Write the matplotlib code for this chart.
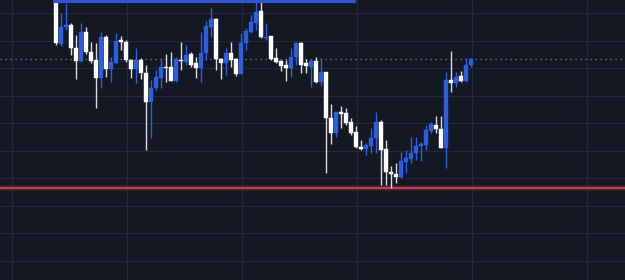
import matplotlib
matplotlib.use('Agg')
import matplotlib.pyplot as plt
import numpy as np

# candle prices (arbitrary units)
opens = [210, 156, 173, 175, 152, 139, 168, 148, 140, 122,
         163, 131, 137, 160, 158, 140, 131, 140, 127, 98,
         112, 122, 133, 133, 119, 140.5, 138, 146, 137, 132,
         147, 173, 181, 141, 137, 147, 141, 126, 157, 168,
         177, 189, 162.5, 164, 142, 139, 135, 132, 143, 157,
         137, 133, 139, 118, 128, 82, 67, 88, 87, 78,
         68, 53, 51, 54, 62, 78, 51, 28, 26, 23,
         38, 41, 47, 54, 55, 69, 75, 71, 52, 120,
         117, 124, 119, 135]
highs = [215, 187, 197, 177, 165, 177, 173, 158, 157, 168,
         165, 143, 167, 164, 160, 140, 152, 142, 135, 120,
         130, 142, 146, 148, 143, 158, 155, 148, 143, 168,
         179, 192, 182, 142, 152, 158, 142, 167, 172, 185,
         198, 200, 177, 164, 152, 140, 140, 152, 158, 158,
         141, 141, 143, 142, 128, 96, 88, 94, 92, 82,
         74, 60, 57, 72, 88, 80, 60, 34, 37, 48,
         50, 63, 63, 58, 75, 78, 84, 84, 128, 149,
         128, 129, 142, 142]
lows = [155, 154, 170, 145, 121, 138, 146, 137, 92, 112,
        123, 118, 137, 150, 138, 122, 117, 121, 50, 62,
        110, 112, 118, 119, 118, 130, 135, 133, 122, 118,
        140, 163, 130, 121, 125, 133, 124, 126, 150, 167,
        170, 162, 160, 140, 137, 129, 119, 123, 135, 127,
        127, 113, 117, 114, 27, 56, 63, 72, 75, 65,
        52, 50, 45, 47, 47, 15, 15, 12, 17, 22,
        27, 37, 40, 39, 50, 67, 67, 52, 32, 108,
        113, 118, 118, 133]
closes = [157, 173, 175, 152, 139, 168, 148, 139, 122, 163,
          131, 138, 159, 158, 140, 131, 140, 127, 98, 112,
          123, 133, 132, 119, 141, 139.5, 145, 135, 132, 147,
          174, 181, 141, 137, 147, 140, 126, 157, 169, 178,
          188, 163, 163.5, 141, 138, 134, 132, 143, 157, 135,
          134, 139, 118, 128, 82, 67, 88, 86, 77, 67,
          53, 51, 55, 62, 78, 50, 28, 26, 23, 39,
          42, 47, 54, 56, 70, 76, 71, 52, 120, 117,
          123, 119, 135, 141]

support = 12.5       # red line
last_price = 141     # dotted line
zone_top = 199       # blue line
zone_end = 60

bg = '#141823'
up_col = '#2b5ee0'
down_col = '#ffffff'

fig = plt.figure(figsize=(6.25, 2.8), dpi=100)
fig.patch.set_facecolor(bg)
ax = fig.add_axes([0, 0, 1, 1])
ax.set_facecolor(bg)

x = np.arange(len(opens))
o = np.array(opens)
h = np.array(highs)
l = np.array(lows)
c = np.array(closes)
up = c >= o
cols = np.where(up, up_col, down_col)
wick_cols = np.where(up, up_col, '#d8dade')

ax.vlines(x, l, h, colors=wick_cols, linewidth=1.0, zorder=3)
ax.bar(x, np.abs(c - o), bottom=np.minimum(o, c), width=0.75,
       color=cols, edgecolor=cols, linewidth=0.3, zorder=4)

# lines
ax.axhline(support, color='#5a2430', linewidth=4, zorder=2, alpha=0.7)
ax.axhline(support, color='#e04656', linewidth=1.2, zorder=2)
ax.axhline(last_price, color='#7d8497', linewidth=0.9, linestyle=(0, (1, 3)), zorder=2)
ax.hlines(zone_top, -0.3, zone_end, color='#2f56d0', linewidth=3, zorder=5)

# grid
ax.set_xlim(-11.14, 113.86)
ax.set_ylim(-80, 200)
ax.set_xticks(np.arange(-8.74, 113, 23))
ax.set_yticks(np.arange(187, -80, -27.5))
ax.grid(True, color='#232836', linewidth=0.8, zorder=0)
ax.tick_params(length=0, labelbottom=False, labelleft=False)
for s in ax.spines.values():
    s.set_visible(False)

fig.savefig('out.png', dpi=100, facecolor=bg)
